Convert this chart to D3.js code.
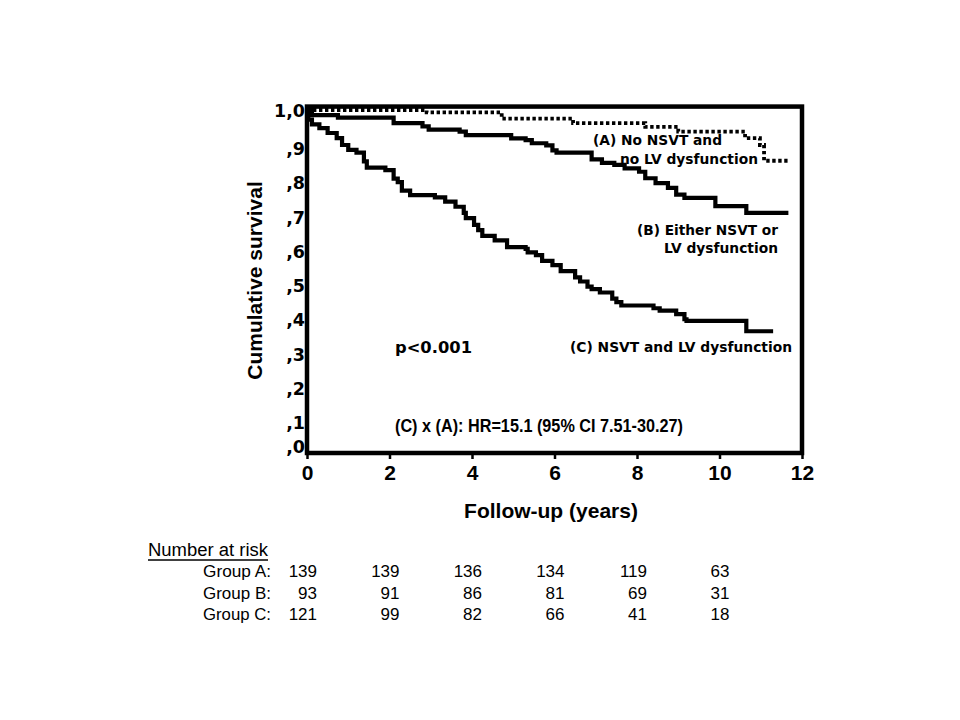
<!DOCTYPE html>
<html>
<head>
<meta charset="utf-8">
<script src="https://cdn.jsdelivr.net/npm/d3@7"></script>
<style>
  html, body { margin: 0; padding: 0; background: #ffffff; }
  svg { display: block; }
</style>
</head>
<body>
<svg id="chart" width="960" height="720"></svg>
<script>
// ---------- data ----------
const xTicks = [0, 2, 4, 6, 8, 10, 12];
const yTicks = [0, 0.1, 0.2, 0.3, 0.4, 0.5, 0.6, 0.7, 0.8, 0.9, 1.0];

// Group A: No NSVT and no LV dysfunction (dotted)
const groupATime = [0, 2.9, 4.72, 6.45, 8.2, 9.0, 10.62, 10.98, 11.08];
const groupASurv = [1.0, 0.993, 0.975, 0.962, 0.951, 0.937, 0.918, 0.898, 0.852];
const groupAEnd = 11.65;

// Group B: Either NSVT or LV dysfunction
const groupBTime = [0, 0.12, 0.75, 2.1, 2.8, 2.95, 3.7, 3.85, 4.95, 5.3, 5.45, 5.8, 5.95, 6.05, 6.9, 7.15, 7.45, 7.7, 8.05, 8.2, 8.45, 8.75, 8.95, 9.15, 9.9, 10.65];
const groupBSurv = [1.0, 0.985, 0.978, 0.962, 0.952, 0.943, 0.937, 0.927, 0.917, 0.912, 0.903, 0.897, 0.882, 0.876, 0.856, 0.846, 0.840, 0.830, 0.820, 0.801, 0.787, 0.773, 0.753, 0.744, 0.720, 0.700];
const groupBEnd = 11.67;

// Group C: NSVT and LV dysfunction
const groupCTime = [0, 0.03, 0.12, 0.3, 0.5, 0.72, 0.85, 1.0, 1.2, 1.38, 1.45, 1.9, 2.1, 2.2, 2.3, 2.5, 3.1, 3.35, 3.6, 3.8, 3.85, 4.05, 4.15, 4.25, 4.55, 4.85, 5.3, 5.35, 5.55, 5.7, 5.95, 6.15, 6.5, 6.62, 6.8, 6.9, 7.1, 7.4, 7.5, 7.62, 8.4, 8.55, 8.95, 9.15, 9.2, 10.65];
const groupCSurv = [1.0, 0.972, 0.958, 0.947, 0.933, 0.918, 0.898, 0.884, 0.876, 0.850, 0.832, 0.825, 0.800, 0.790, 0.765, 0.752, 0.745, 0.733, 0.718, 0.700, 0.685, 0.665, 0.650, 0.633, 0.620, 0.600, 0.595, 0.585, 0.577, 0.560, 0.548, 0.530, 0.512, 0.500, 0.485, 0.478, 0.468, 0.450, 0.440, 0.430, 0.422, 0.415, 0.405, 0.390, 0.385, 0.355];
const groupCEnd = 11.3;

// Number at risk table
const riskTimes = [0, 2, 4, 6, 8, 10];
const riskLabels = ["Group A:", "Group B:", "Group C:"];
const riskA = [139, 139, 136, 134, 119, 63];
const riskB = [93, 91, 86, 81, 69, 31];
const riskC = [121, 99, 82, 66, 41, 18];

// Texts
const yTitle = "Cumulative survival";
const xTitle = "Follow-up (years)";
const labelA = ["(A) No NSVT and", "no LV dysfunction"];
const labelB = ["(B) Either NSVT or", "LV dysfunction"];
const labelC = "(C) NSVT and LV dysfunction";
const pText = "p<0.001";
const hrText = "(C) x (A): HR=15.1 (95% CI 7.51-30.27)";
const riskTitle = "Number at risk";

// ---------- drawing ----------
const svg = d3.select("#chart");
const x = d3.scaleLinear().domain([0, 12]).range([307, 802]);
const y = d3.scaleLinear().domain([0, 1]).range([453, 110]);

const boldSans = "'Liberation Sans', Arial, sans-serif";
const deja = "'DejaVu Sans', sans-serif";

function series(times, surv, end) {
  const pts = times.map((t, i) => [t, surv[i]]);
  pts.push([end, surv[surv.length - 1]]);
  return pts;
}
const line = d3.line().x(d => x(d[0])).y(d => y(d[1])).curve(d3.curveStepAfter);

// curves
svg.append("path").datum(series(groupCTime, groupCSurv, groupCEnd))
  .attr("d", line).attr("fill", "none").attr("stroke", "#000")
  .attr("stroke-width", 4.2).attr("stroke-linejoin", "miter");
svg.append("path").datum(series(groupBTime, groupBSurv, groupBEnd))
  .attr("d", line).attr("fill", "none").attr("stroke", "#000")
  .attr("stroke-width", 4.2).attr("stroke-linejoin", "miter");
svg.append("path").datum(series(groupATime, groupASurv, groupAEnd))
  .attr("d", line).attr("fill", "none").attr("stroke", "#000")
  .attr("stroke-width", 3.8).attr("stroke-dasharray", "3.4,2.6");

// frame
svg.append("rect")
  .attr("x", x(0)).attr("y", y(1.01))
  .attr("width", x(12) - x(0)).attr("height", y(0) - y(1.01))
  .attr("fill", "none").attr("stroke", "#000").attr("stroke-width", 4.5);

// x axis
const xAxis = d3.axisBottom(x).tickValues(xTicks).tickSize(6).tickPadding(6)
  .tickFormat(d3.format("d"));
const gx = svg.append("g").attr("transform", `translate(0,${y(0)})`).call(xAxis);
gx.select(".domain").remove();
gx.selectAll(".tick line").attr("stroke", "#000").attr("stroke-width", 2.5);
gx.selectAll(".tick text").attr("fill", "#000")
  .style("font-family", boldSans).style("font-weight", "bold").style("font-size", "21px")
  .attr("dy", "0.71em");

// y axis labels
const yFmt = v => v === 1 ? "1,0" : "," + Math.round(v * 10);
const yAxis = d3.axisLeft(y).tickValues(yTicks).tickSize(0).tickPadding(2).tickFormat(yFmt);
const gy = svg.append("g").attr("transform", `translate(${x(0)},0)`).call(yAxis);
gy.select(".domain").remove();
gy.selectAll(".tick text").attr("fill", "#000")
  .style("font-family", deja).style("font-weight", "bold").style("font-size", "17.5px")
  .attr("dy", d => d === 0 ? "-0.05em" : (d === 1 ? "0.35em" : "0.58em"));

// axis titles
svg.append("text").attr("transform", `translate(262,${(y(0) + y(1)) / 2 - 1}) rotate(-90)`)
  .attr("text-anchor", "middle").style("font-family", boldSans).style("font-weight", "bold")
  .style("font-size", "21px").text(yTitle);
svg.append("text").attr("x", 551).attr("y", 518).attr("text-anchor", "middle")
  .style("font-family", boldSans).style("font-weight", "bold").style("font-size", "21px")
  .text(xTitle);

// annotations
function ann(txt, px, py, size, len, family) {
  svg.append("text").attr("x", px).attr("y", py)
    .style("font-family", family || deja).style("font-weight", "bold").style("font-size", size + "px")
    .attr("textLength", len).attr("lengthAdjust", "spacingAndGlyphs").text(txt);
}
ann(labelA[0], 593, 145, 13.6, 129);
ann(labelA[1], 620, 164, 13.6, 138);
ann(labelB[0], 637, 235, 13.6, 141);
ann(labelB[1], 664, 253, 13.6, 114);
ann(labelC, 570, 352, 13.6, 222);
ann(pText, 395, 353, 16.3, 77);
ann(hrText, 395, 432, 19, 288, boldSans);

// number at risk table
const tbl = svg.append("g").style("font-family", "'Liberation Sans', Arial, sans-serif").style("fill", "#000");
tbl.append("text").attr("x", 148).attr("y", 556).style("font-size", "18px")
  .attr("textLength", 120).attr("lengthAdjust", "spacingAndGlyphs").text(riskTitle);
tbl.append("line").attr("x1", 148).attr("x2", 268).attr("y1", 560).attr("y2", 560)
  .attr("stroke", "#000").attr("stroke-width", 1.3);
const rows = [riskA, riskB, riskC];
const rowY = [577, 598.5, 620];
rows.forEach((vals, r) => {
  tbl.append("text").attr("x", 271).attr("y", rowY[r]).attr("text-anchor", "end")
    .style("font-size", "17px").attr("textLength", 68).attr("lengthAdjust", "spacingAndGlyphs")
    .text(riskLabels[r]);
  tbl.selectAll(null).data(vals).enter().append("text")
    .attr("x", (d, i) => x(riskTimes[i]) + 10)
    .attr("y", rowY[r]).attr("text-anchor", "end").style("font-size", "17px")
    .text(d => d);
});
</script>
</body>
</html>
